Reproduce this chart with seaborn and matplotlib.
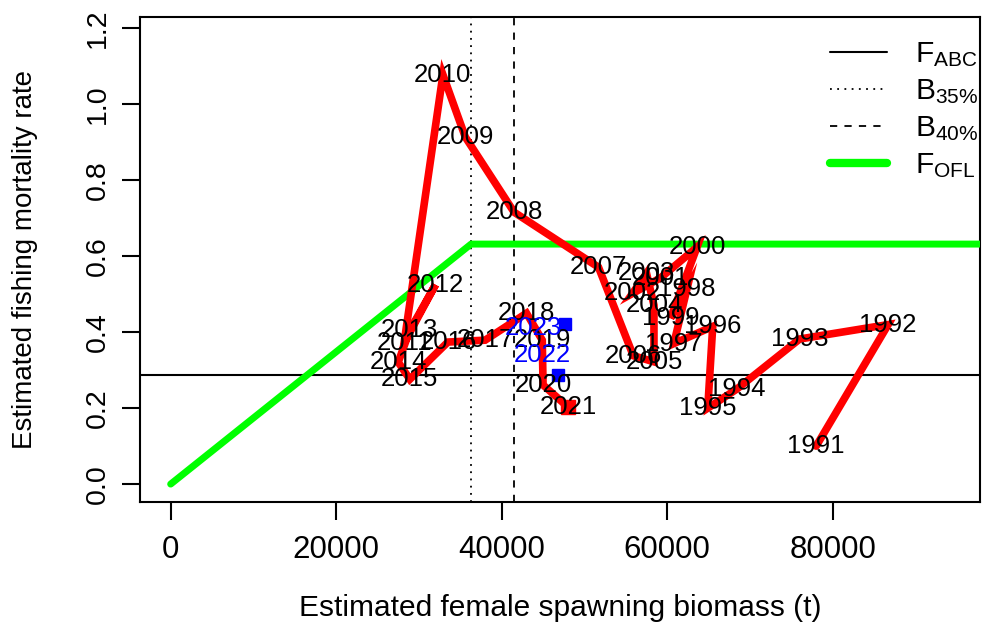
import numpy as np
import pandas as pd
import matplotlib
matplotlib.use("Agg")
import matplotlib.pyplot as plt
import seaborn as sns

# Stock trajectory (female spawning biomass vs F)
years = list(range(1991, 2022))
biomass = [78000, 86700, 76000, 68400, 64900, 65500, 60800, 62400, 60400, 63600,
           59200, 55800, 57500, 58400, 58400, 55900, 51700, 41500, 35600, 32900,
           28200, 32000, 28900, 27500, 28900, 33500, 38000, 43000, 44900, 45000,
           48000]
fmort = [0.10, 0.42, 0.382, 0.25, 0.20, 0.415, 0.37, 0.515, 0.437, 0.624,
         0.543, 0.502, 0.555, 0.471, 0.322, 0.338, 0.571, 0.716, 0.914, 1.078,
         0.371, 0.525, 0.405, 0.321, 0.276, 0.374, 0.379, 0.45, 0.379, 0.261,
         0.203]

# projections
proj_years = [2022, 2023]
proj_biomass = [46800, 47650]
proj_f = [0.287, 0.421]
proj_label_b = [44900, 43800]
proj_label_f = [0.339, 0.411]

# reference points
f_abc = 0.288
f_ofl = 0.632
b35 = 36300
b40 = 41500

df = pd.DataFrame({"year": years, "B": biomass, "F": fmort})
ofl = pd.DataFrame({"B": [0, b35, 120000], "F": [0, f_ofl, f_ofl]})

sns.set_style("white")
plt.rcParams["font.family"] = ["Liberation Sans", "DejaVu Sans"]
plt.rcParams["mathtext.fontset"] = "custom"
plt.rcParams["mathtext.rm"] = "Liberation Sans"
plt.rcParams["mathtext.it"] = "Liberation Sans:italic"
for k in ["text.color", "axes.labelcolor", "xtick.color", "ytick.color", "axes.edgecolor"]:
    plt.rcParams[k] = "black"

fig, ax = plt.subplots(figsize=(9.82, 6.39), dpi=100)
fig.subplots_adjust(left=0.1426, right=0.998, top=0.974, bottom=0.2145)

ax.axhline(f_abc, color="black", lw=1.5, label=r"$\mathrm{F}_{\mathrm{ABC}}$", zorder=2)
ax.axvline(b35, color="black", lw=1.3, ls=(0, (1, 3)), label=r"$\mathrm{B}_{35\%}$", zorder=2)
ax.axvline(b40, color="black", lw=1.3, ls=(0, (4, 4)), label=r"$\mathrm{B}_{40\%}$", zorder=2)
sns.lineplot(data=ofl, x="B", y="F", sort=False, estimator=None, color="#00FF00",
             lw=5, solid_capstyle="round", label=r"$\mathrm{F}_{\mathrm{OFL}}$", ax=ax, zorder=3)
sns.lineplot(data=df, x="B", y="F", sort=False, estimator=None, color="#FF0000",
             lw=5.5, solid_joinstyle="miter", ax=ax, zorder=4, legend=False)
ax.plot(biomass[-1], fmort[-1], marker="s", ms=10, color="#FF0000", zorder=4)
ax.plot(proj_biomass, proj_f, ls="none", marker="s", ms=9, color="#0000FF", zorder=5)

for y, b, f in zip(years, biomass, fmort):
    ax.text(b, f, str(y), ha="center", va="center", fontsize=18.5, color="black", zorder=6)
for y, b, f in zip(proj_years, proj_label_b, proj_label_f):
    ax.text(b, f, str(y), ha="center", va="center", fontsize=18.5, color="#0000FF", zorder=6)

ax.set_xlim(-3700, 97800)
ax.set_ylim(-0.047, 1.231)
ax.set_xticks([0, 20000, 40000, 60000, 80000])
ax.set_yticks([0.0, 0.2, 0.4, 0.6, 0.8, 1.0, 1.2])
ax.set_yticklabels(["0.0", "0.2", "0.4", "0.6", "0.8", "1.0", "1.2"])
ax.tick_params(axis="both", direction="out", length=13, width=1.5,
               bottom=True, left=True, color="black")
ax.tick_params(axis="x", pad=11, labelsize=22.5)
ax.tick_params(axis="y", pad=8, labelsize=20.5)
plt.setp(ax.get_yticklabels(), rotation=90, va="center")
for s in ax.spines.values():
    s.set_color("black")
    s.set_linewidth(1.5)

ax.set_xlabel("Estimated female spawning biomass (t)", fontsize=21.5, va="center")
ax.set_ylabel("Estimated fishing mortality rate", fontsize=20, va="center")
ax.xaxis.set_label_coords(0.5, -0.218)
ax.yaxis.set_label_coords(-0.137, 0.5)

leg = ax.legend(loc="upper right", bbox_to_anchor=(1.012, 0.975), frameon=False,
                fontsize=21.5, handlelength=1.9, handletextpad=0.94, labelspacing=0.27,
                borderaxespad=0.1, borderpad=0.3)
for h in leg.get_lines():
    if h.get_color() == "#00FF00":
        h.set_linewidth(6)

fig.savefig("out.png", dpi=100)
